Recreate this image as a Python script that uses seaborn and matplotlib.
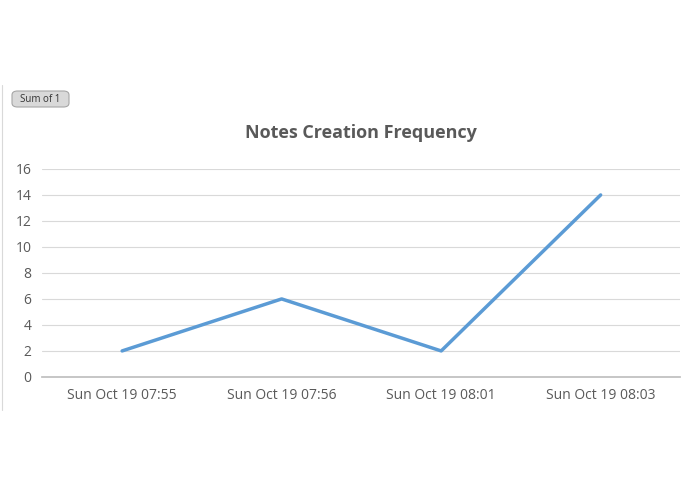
import matplotlib
matplotlib.use('Agg')
import matplotlib.pyplot as plt
import seaborn as sns
import pandas as pd
from matplotlib.patches import FancyBboxPatch

times = ['Sun Oct 19 07:55', 'Sun Oct 19 07:56', 'Sun Oct 19 08:01', 'Sun Oct 19 08:03']
counts = [2, 6, 2, 14]

sns.set_theme(style='white')
plt.rcParams['font.family'] = ['Open Sans', 'DejaVu Sans']

df = pd.DataFrame({'time': times, 'count': counts})

fig = plt.figure(figsize=(6.95, 4.94), dpi=100)
ax = fig.add_axes([0.061, 0.237, 0.918, 0.421])
sns.lineplot(data=df, x='time', y='count', ax=ax, color='#5b9bd5', linewidth=2.5, sort=False)

ax.set_ylim(0, 16)
ax.set_yticks(range(0, 17, 2))
ax.set_xlim(-0.5, 3.5)
ax.grid(axis='y', color='#d9d9d9', linewidth=0.8)
ax.set_axisbelow(True)
for s in ['top', 'right', 'left']:
    ax.spines[s].set_visible(False)
ax.spines['bottom'].set_color('#bfbfbf')
ax.tick_params(axis='both', colors='#595959', labelsize=10, length=0, pad=8)
ax.set_xlabel('')
ax.set_ylabel('')
ax.set_title('Notes Creation Frequency', fontsize=13, fontweight='bold', color='#595959', pad=22)

# pivot field button
btn = FancyBboxPatch((12 / 695, 1 - 107 / 494), 57 / 695, 16 / 494,
                     boxstyle='round,pad=0,rounding_size=0.008', transform=fig.transFigure,
                     facecolor='#d9d9d9', edgecolor='#a6a6a6', linewidth=0.8)
fig.patches.append(btn)
fig.text(40 / 695, 1 - 99 / 494, 'Sum of 1', ha='center', va='center', fontsize=7, color='#333333')

# thin frame edge on left
fig.add_artist(plt.Line2D([2 / 695, 2 / 695], [1 - 85 / 494, 1 - 410 / 494],
                          transform=fig.transFigure, color='#d9d9d9', linewidth=0.8))

fig.savefig('out.png', dpi=100)
